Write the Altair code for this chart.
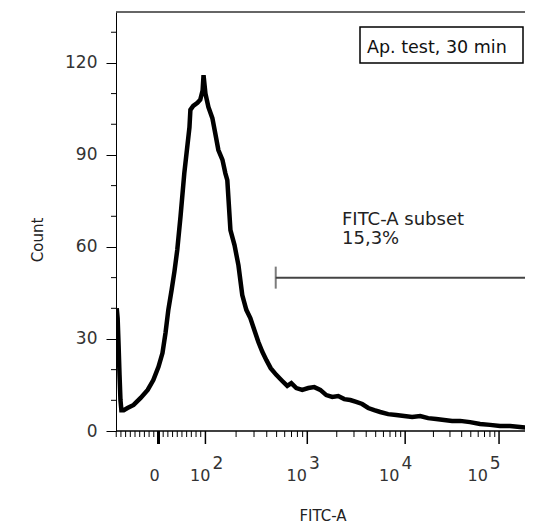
import math
import altair as alt
import pandas as pd

# ---------------- data ----------------
fitc_values = [-89, -87, -85, -83, -81, -79, -74, -66, -53, -38, -23, -11, 0, 8.5, 15, 21, 28, 34, 40, 47,
               55, 66, 68, 74, 83, 89, 94, 96, 100, 107, 117, 125, 134, 147, 157, 164, 176, 193, 211,
               230, 252, 276, 302, 331, 362, 397, 437, 496, 568, 636, 697, 780, 893, 1024, 1179, 1357,
               1563, 1800, 2071, 2386, 2747, 3162, 3640, 4193, 4828, 5560, 6700, 8090, 9770, 11870,
               14450, 17560, 21370, 26000, 31600, 38500, 49100, 62800, 80200, 102500, 130900, 167300,
               214000, 230000]
counts = [40, 36.8, 28, 18.3, 10.1, 6.8, 6.8, 7.5, 8.5, 10.8, 13.4, 16.6, 20.9, 25.4, 32, 39.5, 46, 52, 59, 70,
          84, 99, 104.7, 106, 107, 108, 111, 116, 110, 105.6, 102, 97, 91.6, 88.4, 84, 81.8, 65.5, 60.6, 54,
          44.3, 39.5, 36.8, 32.9, 29, 25.8, 23.1, 20.5, 18.3, 16.3, 14.7, 15.6, 14, 13.4, 14, 14.3, 13.4,
          11.7, 11.1, 11.4, 10.4, 10.1, 9.5, 8.8, 7.5, 6.8, 6.2, 5.5, 5.2, 4.9, 4.6,
          4.9, 4.2, 3.9, 3.6, 3.3, 3.3, 2.9, 2.3, 2.0, 1.6, 1.6, 1.3,
          1.0, 1.0]

y_major = [0, 30, 60, 90, 120]
y_minor = [10, 20, 40, 50, 70, 80, 100, 110, 130]
y_max = 136.6

x_major = [100, 1000, 10000, 100000]
x_zero = [0]
x_minor = [-90, -80, -70, -60, -50, -40, -30, -20, -10, 10, 20, 30, 40, 50, 60, 70, 80, 90,
           200, 300, 400, 500, 600, 700, 800, 900,
           2000, 3000, 4000, 5000, 6000, 7000, 8000, 9000,
           20000, 30000, 40000, 50000, 60000, 70000, 80000, 90000]
x_label_values = [100, 1000, 10000, 100000]
x_label_exponents = ["2", "3", "4", "5"]
x_min, x_max = -90.5, 189000

gate_start, gate_end, gate_count = 490, 262144, 50
gate_lines = ["FITC-A subset", "15,3%"]
box_text = "Ap. test, 30 min"
x_title = "FITC-A"
y_title = "Count"

W, H = 409, 419
FONT = "DejaVu Sans"


def disp(f):
    d = f"datum.{f}"
    return (f"{d} <= 100 ? 0.47*{d} : ({d} <= 1000 ? 47 + 102*log({d}/100)/LN10 : "
            f"({d} <= 10000 ? 149 + 98*log({d}/1000)/LN10 : 247 + 94*log({d}/10000)/LN10))")


def dval(v):
    if v <= 100:
        return 0.47 * v
    if v <= 1000:
        return 47 + 102 * math.log10(v / 100)
    if v <= 10000:
        return 149 + 98 * math.log10(v / 1000)
    return 247 + 94 * math.log10(v / 10000)


xs = alt.Scale(domain=[dval(x_min), dval(x_max)], nice=False, zero=False)
ys = alt.Scale(domain=[0, y_max], nice=False, zero=True)
yaxis = alt.Axis(values=y_major, tickSize=10, labelPadding=9, title=None, grid=False,
                 labelFont=FONT, labelFontSize=17, labelColor="#333", domainColor="black",
                 tickColor="black", domainWidth=1, tickWidth=1)

curve_df = pd.DataFrame({"fitc": fitc_values, "count": counts})
curve = alt.Chart(curve_df).transform_calculate(disp=disp("fitc")).mark_line(
    color="black", strokeWidth=4.5, clip=True
).encode(
    x=alt.X("disp:Q", scale=xs, axis=None),
    y=alt.Y("count:Q", scale=ys, axis=yaxis),
    order="fitc:Q",
)

yminor = alt.Chart(pd.DataFrame({"v": y_minor})).mark_rule(color="black", strokeWidth=1).encode(
    y=alt.Y("v:Q", scale=ys, axis=yaxis), x=alt.value(-5), x2=alt.value(0)
)

one = pd.DataFrame({"a": [0]})
top_line = alt.Chart(one).mark_rule(color="#333", strokeWidth=1.5).encode(
    x=alt.value(0), x2=alt.value(W), y=alt.value(0)
)
bottom_line = alt.Chart(one).mark_rule(color="black", strokeWidth=1.5).encode(
    x=alt.value(0), x2=alt.value(W), y=alt.value(H)
)

xmaj = alt.Chart(pd.DataFrame({"v": x_major})).transform_calculate(disp=disp("v")).mark_rule(
    color="black", strokeWidth=1.5).encode(
    x=alt.X("disp:Q", scale=xs, axis=None), y=alt.value(H), y2=alt.value(H + 13))
xzero = alt.Chart(pd.DataFrame({"v": x_zero})).transform_calculate(disp=disp("v")).mark_rule(
    color="black", strokeWidth=3).encode(
    x=alt.X("disp:Q", scale=xs, axis=None), y=alt.value(H), y2=alt.value(H + 13))
xmin_t = alt.Chart(pd.DataFrame({"v": x_minor})).transform_calculate(disp=disp("v")).mark_rule(
    color="black", strokeWidth=1).encode(
    x=alt.X("disp:Q", scale=xs, axis=None), y=alt.value(H), y2=alt.value(H + 6))

zero_label = alt.Chart(pd.DataFrame({"v": x_zero, "t": ["0"]})).transform_calculate(
    disp=disp("v")).mark_text(font=FONT, fontSize=16, color="#333", align="center",
                              baseline="alphabetic", dx=-4).encode(
    x=alt.X("disp:Q", scale=xs, axis=None), y=alt.value(H + 50), text="t:N")

# labels of the decades are drawn slightly left of their ticks, more so for higher decades
lab_df = pd.DataFrame({"v": x_label_values, "e": x_label_exponents, "b": ["10"] * len(x_label_values)})
lab_pos = disp("v") and f"({disp('v')}) - 5.4*(log(datum.v)/LN10 - 2)"
base_labels = alt.Chart(lab_df).transform_calculate(lp=lab_pos).mark_text(
    font=FONT, fontSize=16, color="#333", align="right", baseline="alphabetic", dx=5).encode(
    x=alt.X("lp:Q", scale=xs, axis=None), y=alt.value(H + 50), text="b:N")
exp_labels = alt.Chart(lab_df).transform_calculate(lp=lab_pos).mark_text(
    font=FONT, fontSize=17, color="#333", align="left", baseline="alphabetic", dx=7).encode(
    x=alt.X("lp:Q", scale=xs, axis=None), y=alt.value(H + 38), text="e:N")

gate_df = pd.DataFrame({"s": [gate_start], "e": [gate_end], "c": [gate_count]})
gate_line = alt.Chart(gate_df).transform_calculate(ds=disp("s"), de=disp("e")).mark_rule(
    color="#444", strokeWidth=2).encode(
    x=alt.X("ds:Q", scale=xs, axis=None), x2="de:Q", y=alt.Y("c:Q", scale=ys, axis=yaxis))
gate_end_tick = alt.Chart(gate_df).transform_calculate(ds=disp("s")).mark_tick(
    color="#444", orient="vertical", size=22, thickness=2).encode(
    x=alt.X("ds:Q", scale=xs, axis=None), y=alt.Y("c:Q", scale=ys, axis=yaxis))

gate_label1 = alt.Chart(pd.DataFrame({"t": [gate_lines[0]]})).mark_text(
    font=FONT, fontSize=18, color="#222", align="left", baseline="alphabetic").encode(
    x=alt.value(226), y=alt.value(213), text="t:N")
gate_label2 = alt.Chart(pd.DataFrame({"t": [gate_lines[1]]})).mark_text(
    font=FONT, fontSize=18, color="#222", align="left", baseline="alphabetic").encode(
    x=alt.value(226), y=alt.value(232), text="t:N")

box = alt.Chart(one).mark_rect(fill="white", stroke="black", strokeWidth=1.5).encode(
    x=alt.value(244), x2=alt.value(407), y=alt.value(15), y2=alt.value(51))
box_label = alt.Chart(pd.DataFrame({"t": [box_text]})).mark_text(
    font=FONT, fontSize=17.5, color="#111", align="left", baseline="alphabetic").encode(
    x=alt.value(251), y=alt.value(41), text="t:N")

xt = alt.Chart(pd.DataFrame({"t": [x_title]})).mark_text(
    font=FONT, fontSize=15, color="#222", align="center", baseline="middle").encode(
    x=alt.value(207), y=alt.value(504), text="t:N")
yt = alt.Chart(pd.DataFrame({"t": [y_title]})).mark_text(
    font=FONT, fontSize=15, color="#222", align="center", baseline="middle", angle=270).encode(
    x=alt.value(-78), y=alt.value(228), text="t:N")

chart = alt.layer(
    bottom_line, top_line, yminor, xmin_t, xmaj, xzero, curve, gate_line, gate_end_tick,
    zero_label, base_labels, exp_labels, gate_label1, gate_label2, box, box_label, xt, yt
).properties(
    width=W, height=H, padding={"left": 108, "top": 4, "right": 0, "bottom": 100}, autosize="none"
).configure_view(stroke=None)

chart.save("out.html", embed_options={"renderer": "svg", "actions": False})
